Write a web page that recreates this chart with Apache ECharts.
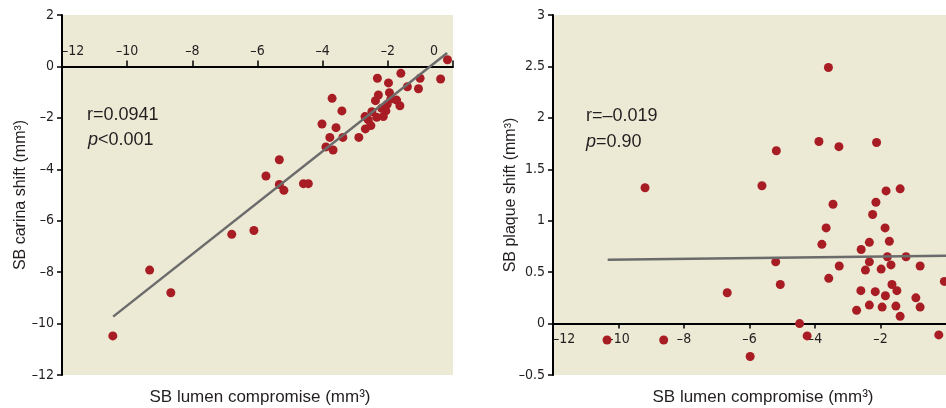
<!DOCTYPE html>
<html>
<head>
<meta charset="utf-8">
<script src="https://cdn.jsdelivr.net/npm/echarts@6/dist/echarts.min.js"></script>
<style>
  html, body { margin: 0; padding: 0; background: #fff; }
  #chart { width: 946px; height: 408px; }
</style>
</head>
<body>
<div id="chart"></div>
<script>
// left panel: SB lumen compromise vs SB carina shift
const carinaLumen = [-0.17, -1.60, -2.32, -1.01, -0.38, -1.98, -1.40, -1.06, -3.71, -2.29, -1.95, -2.38, -1.91, -1.73, -1.63, -2.02, -3.41, -2.06, -2.19, -2.49, -2.70, -2.14, -2.34, -2.60, -2.52, -2.69, -4.02, -3.59, -2.89, -3.78, -3.38, -3.90, -3.68, -4.59, -4.44, -5.33, -5.74, -5.33, -5.19, -6.79, -6.11, -9.31, -8.66, -10.44]
const carinaShift = [0.26, -0.27, -0.46, -0.46, -0.49, -0.64, -0.79, -0.87, -1.24, -1.11, -1.02, -1.33, -1.27, -1.31, -1.53, -1.47, -1.73, -1.73, -1.63, -1.76, -1.95, -1.95, -1.98, -2.08, -2.30, -2.43, -2.24, -2.38, -2.76, -2.76, -2.76, -3.13, -3.25, -4.56, -4.56, -3.63, -4.26, -4.59, -4.82, -6.53, -6.38, -7.92, -8.80, -10.48]
const carinaFitX = [-10.43, -0.18]
const carinaFitY = [-9.73, 0.52]

// right panel: SB lumen compromise vs SB plaque shift
const plaqueLumen = [-3.59, -3.88, -3.27, -2.12, -5.18, -5.62, -9.19, -1.83, -1.40, -3.45, -2.14, -2.24, -3.66, -1.86, -3.79, -2.34, -1.73, -2.59, -1.79, -1.22, -5.20, -2.34, -3.26, -1.68, -0.79, -2.46, -1.98, -5.06, -3.58, -1.65, -0.05, -6.68, -2.60, -2.16, -1.50, -1.85, -0.92, -2.34, -1.95, -1.53, -0.79, -2.73, -1.40, -4.47, -4.24, -0.22, -10.35, -8.62, -5.98]
const plaqueShift = [2.49, 1.77, 1.72, 1.76, 1.68, 1.34, 1.32, 1.29, 1.31, 1.16, 1.18, 1.06, 0.93, 0.93, 0.77, 0.79, 0.80, 0.72, 0.65, 0.65, 0.60, 0.60, 0.56, 0.57, 0.56, 0.52, 0.53, 0.38, 0.44, 0.38, 0.41, 0.30, 0.32, 0.31, 0.32, 0.27, 0.25, 0.18, 0.16, 0.17, 0.16, 0.13, 0.07, 0.00, -0.12, -0.11, -0.16, -0.16, -0.32]
const plaqueFitX = [-10.33, 0]
const plaqueFitY = [0.62, 0.66]

const zip = (xs, ys) => xs.map((x, i) => [x, ys[i]])
const dash = (v) => (v < 0 ? '\u2013' + Math.abs(v) : String(v))

const ink = '#231f20'
const tickFont = "'Liberation Sans Narrow', 'DejaVu Sans Condensed', 'Liberation Sans', sans-serif"
const textFont = "'Liberation Sans', Arial, sans-serif"
const dotColor = '#a81d24'

const gridTop = 15
const gridHeight = 360
// the x axes sit on y = 0, so shift them from the grid edge into the plot
const leftZeroOffset = -(gridHeight * 2) / 14
const rightZeroOffset = -(gridHeight * 0.5) / 3.5

const baseAxis = {
  axisLine: { onZero: false, lineStyle: { color: '#000', width: 2 } },
  axisTick: { length: 5, lineStyle: { color: '#000', width: 1.5 } },
  splitLine: { show: false },
}

const chart = echarts.init(document.getElementById('chart'))
chart.setOption({
  animation: false,
  grid: [
    { left: 62, top: gridTop, width: 391, height: gridHeight, show: true, backgroundColor: '#ece9d5', borderWidth: 0 },
    { left: 553, top: gridTop, width: 393, height: gridHeight, show: true, backgroundColor: '#ece9d5', borderWidth: 0 },
  ],
  xAxis: [
    {
      ...baseAxis,
      gridIndex: 0,
      type: 'value',
      position: 'top',
      offset: leftZeroOffset,
      min: -12,
      max: 0,
      interval: 2,
      axisTick: { ...baseAxis.axisTick, length: 6 },
      axisLabel: {
        color: ink,
        fontFamily: tickFont,
        fontSize: 14,
        alignMinLabel: 'left',
        formatter: (v) => (v === 0 ? '{z|0}' : dash(v)),
        rich: { z: { padding: [0, 38, 0, 0], fontFamily: tickFont, fontSize: 14, color: ink } },
      },
    },
    {
      ...baseAxis,
      gridIndex: 1,
      type: 'value',
      position: 'bottom',
      offset: rightZeroOffset,
      min: -12,
      max: 0,
      interval: 2,
      axisLabel: {
        color: ink,
        fontFamily: tickFont,
        fontSize: 14,
        margin: 9,
        alignMinLabel: 'left',
        showMaxLabel: false,
        formatter: dash,
      },
    },
  ],
  yAxis: [
    {
      ...baseAxis,
      gridIndex: 0,
      type: 'value',
      min: -12,
      max: 2,
      interval: 2,
      axisLabel: { color: ink, fontFamily: tickFont, fontSize: 14, formatter: dash },
      name: 'SB carina shift (mm\u00b3)',
      nameLocation: 'middle',
      nameMoveOverlap: false,
      nameGap: 33,
      nameTextStyle: { color: ink, fontFamily: textFont, fontSize: 16 },
    },
    {
      ...baseAxis,
      gridIndex: 1,
      type: 'value',
      min: -0.5,
      max: 3,
      interval: 0.5,
      axisLabel: { color: ink, fontFamily: tickFont, fontSize: 14, formatter: dash },
      name: 'SB plaque shift (mm\u00b3)',
      nameLocation: 'middle',
      nameMoveOverlap: false,
      nameGap: 34,
      nameTextStyle: { color: ink, fontFamily: textFont, fontSize: 16 },
    },
  ],
  graphic: [
    { type: 'text', left: 87, top: 106, style: { text: 'r=0.0941', fill: ink, font: "18px 'Liberation Sans', Arial, sans-serif" } },
    {
      type: 'text', left: 88, top: 131,
      style: {
        text: '{i|p}<0.001', fill: ink, font: "18px 'Liberation Sans', Arial, sans-serif",
        rich: { i: { fontStyle: 'italic', fontSize: 18, fontFamily: textFont, fill: ink } },
      },
    },
    { type: 'text', left: 586, top: 107, style: { text: 'r=\u20130.019', fill: ink, font: "18px 'Liberation Sans', Arial, sans-serif" } },
    {
      type: 'text', left: 586, top: 133,
      style: {
        text: '{i|p}=0.90', fill: ink, font: "18px 'Liberation Sans', Arial, sans-serif",
        rich: { i: { fontStyle: 'italic', fontSize: 18, fontFamily: textFont, fill: ink } },
      },
    },
    { type: 'text', x: 260, y: 397, style: { text: 'SB lumen compromise (mm\u00b3)', fill: ink, font: "17px 'Liberation Sans', Arial, sans-serif", textAlign: 'center', textVerticalAlign: 'middle' } },
    { type: 'text', x: 763, y: 397, style: { text: 'SB lumen compromise (mm\u00b3)', fill: ink, font: "17px 'Liberation Sans', Arial, sans-serif", textAlign: 'center', textVerticalAlign: 'middle' } },
  ],
  series: [
    {
      type: 'line',
      xAxisIndex: 0,
      yAxisIndex: 0,
      data: zip(carinaFitX, carinaFitY),
      symbol: 'none',
      lineStyle: { color: '#6b6b6b', width: 2.5 },
    },
    {
      type: 'scatter',
      xAxisIndex: 0,
      yAxisIndex: 0,
      data: zip(carinaLumen, carinaShift),
      symbolSize: 9,
      itemStyle: { color: dotColor, opacity: 1 },
    },
    {
      type: 'line',
      xAxisIndex: 1,
      yAxisIndex: 1,
      data: zip(plaqueFitX, plaqueFitY),
      symbol: 'none',
      lineStyle: { color: '#6b6b6b', width: 2.5 },
    },
    {
      type: 'scatter',
      xAxisIndex: 1,
      yAxisIndex: 1,
      data: zip(plaqueLumen, plaqueShift),
      symbolSize: 9,
      itemStyle: { color: dotColor, opacity: 1 },
    },
  ],
})
</script>
</body>
</html>
